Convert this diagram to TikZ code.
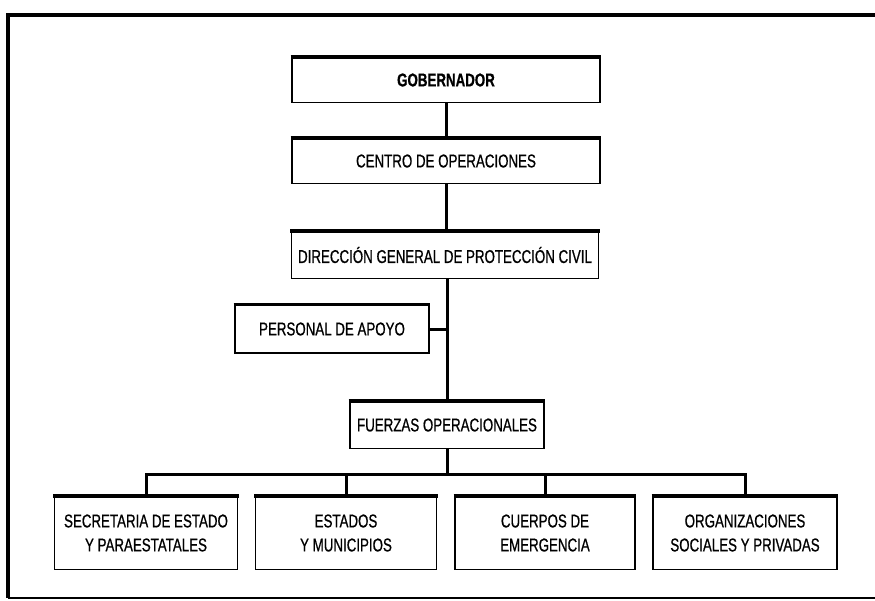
\documentclass[tikz,border=0pt]{standalone}
\usepackage{fontspec}
\setmainfont{Liberation Sans}[FakeStretch=0.72,FakeBold=0.7]
\begin{document}
\begin{tikzpicture}[x=1pt,y=-1pt,
  box/.style={draw, line width=1.5pt, inner sep=0pt, align=center,
    font=\fontsize{18.5}{24}\selectfont},
  link/.style={line width=3pt},
  frame/.style={line width=4pt}]
\useasboundingbox (0,0) rectangle (875,600);
\node[box, minimum width=308pt, minimum height=45pt, font=\fontsize{18.5}{24}\selectfont\bfseries] (g) at (446,80) {GOBERNADOR};
\node[box, minimum width=308pt, minimum height=45pt] (c) at (446,161) {CENTRO DE OPERACIONES};
\node[box, minimum width=307pt, minimum height=47pt] (d) at (445,255) {DIRECCIÓN GENERAL DE PROTECCIÓN CIVIL};
\node[box, minimum width=194pt, minimum height=48pt] (p) at (332,329) {PERSONAL DE APOYO};
\node[box, minimum width=194pt, minimum height=47pt] (f) at (447,425) {FUERZAS OPERACIONALES};
\node[box, minimum width=183pt, minimum height=73pt] (b1) at (146,533) {SECRETARIA DE ESTADO\\Y PARAESTATALES};
\node[box, minimum width=181pt, minimum height=73pt] (b2) at (346,533) {ESTADOS\\Y MUNICIPIOS};
\node[box, minimum width=180pt, minimum height=73pt] (b3) at (545,533) {CUERPOS DE\\EMERGENCIA};
\node[box, minimum width=184pt, minimum height=73pt] (b4) at (745,533) {ORGANIZACIONES\\SOCIALES Y PRIVADAS};
\foreach \n in {g,c,d,p,f,b1,b2,b3,b4}
  \draw[line width=3.5pt] ([xshift=-0.7pt]\n.north west) -- ([xshift=0.7pt]\n.north east);
% connectors
\draw[link] (g.south) -- (c.north);
\draw[link] (c.south) -- (c.south |- d.north);
\draw[link] (d.south -| f.north) -- (f.north);
\draw[link] (p.east) -- (p.east -| f.north);
\coordinate (bus) at (447,474);
\draw[link] (f.south) -- (bus);
\draw[link] (b1.north) |- (bus) -| (b4.north);
\draw[link] (b2.north) -- (b2.north |- bus);
\draw[link] (b3.north) -- (b3.north |- bus);
% frame
\coordinate (tl) at (8,15);
\coordinate (tr) at (875,15);
\coordinate (bl) at (8,598);
\coordinate (br) at (875,598);
\draw[frame] (tr) -- (tl) -- (bl);
\draw[line width=1.5pt] (bl) -- (br);
\end{tikzpicture}
\end{document}
